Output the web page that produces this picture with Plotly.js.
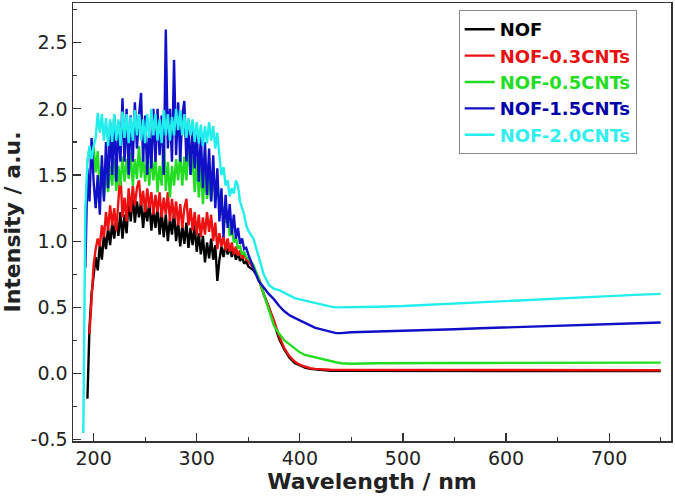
<!DOCTYPE html>
<html><head><meta charset="utf-8">
<script src="https://cdn.plot.ly/plotly-3.0.1.min.js"></script>
<style>html,body{margin:0;padding:0;background:#fff}#chart{width:675px;height:503px}</style>
</head><body><div id="chart"></div>
<script>
// Wavelength grid (nm)
const wavelength = [
190,192,194,196,198,200,202,204,206,208,
210,212,214,216,218,220,222,224,226,228,
230,232,234,236,238,240,242,244,246,248,
250,252,254,256,258,260,262,264,266,268,
270,272,274,276,278,280,282,284,286,288,
290,292,294,296,298,300,302,304,306,308,
310,312,314,316,318,320,322,324,326,328,
330,332,334,336,338,340,342,344,346,348,350,
355,360,365,370,375,380,385,390,395,400,405,410,415,420,425,430,435,440,445,450,
475,500,525,550,575,600,625,650,675,700,725,750];

const seriesNames = ['NOF','NOF-0.3CNTs','NOF-0.5CNTs','NOF-1.5CNTs','NOF-2.0CNTs'];

const nof = [
null,null,-0.19,0.35,0.6,0.72,0.88,0.78,0.98,0.86,
1.05,0.94,1.1,0.97,1.14,1.02,1.18,1.04,1.22,1.02,
1.2,1.06,1.32,1.15,1.36,1.14,1.3,1.18,1.3,1.1,
1.27,1.15,1.3,1.08,1.24,1.1,1.26,1.05,1.22,1.03,
1.2,1.0,1.17,1.05,1.22,1.0,1.14,0.96,1.12,0.98,
1.14,0.95,1.1,0.97,1.12,0.92,1.06,0.9,1.04,0.84,
0.99,0.87,1.02,0.86,0.97,0.7,0.86,0.96,0.88,0.98,
0.9,0.96,0.88,0.94,0.86,0.91,0.85,0.88,0.83,0.85,0.81,
0.78,0.72,0.6,0.5,0.38,0.26,0.18,0.12,0.08,0.06,0.045,0.035,0.03,0.025,0.02,0.02,0.02,0.02,0.02,0.02,
0.02,0.02,0.018,0.02,0.018,0.02,0.02,0.018,0.02,0.02,0.018,0.018];

const nof03 = [
null,null,null,0.3,0.52,0.82,0.94,1.02,0.96,1.12,
1.03,1.22,1.08,1.27,1.12,1.25,1.08,1.32,1.52,1.18,
1.33,1.15,1.4,1.22,1.42,1.27,1.4,1.46,1.27,1.38,
1.22,1.4,1.25,1.37,1.2,1.35,1.22,1.37,1.18,1.33,
1.2,1.37,1.15,1.32,1.17,1.3,1.12,1.28,1.1,1.25,
1.32,1.12,1.25,1.08,1.22,1.05,1.2,1.03,1.18,1.05,
1.22,1.07,1.2,1.0,1.14,0.94,1.06,0.96,1.04,0.93,
1.02,0.92,0.99,0.9,0.96,0.89,0.93,0.87,0.9,0.86,0.85,
0.8,0.72,0.6,0.5,0.4,0.28,0.19,0.13,0.09,0.065,0.05,0.04,0.035,0.03,0.03,0.028,0.028,0.028,0.028,0.028,
0.028,0.028,0.028,0.028,0.025,0.028,0.025,0.025,0.028,0.025,0.025,0.025];

const nof05 = [
null,null,1.6,1.7,1.62,1.72,1.52,1.68,1.38,1.57,
1.33,1.52,1.37,1.57,1.42,1.62,1.38,1.57,1.42,1.64,
1.45,1.62,1.47,1.67,1.42,1.62,1.47,1.72,1.48,1.64,
1.45,1.62,1.42,1.67,1.46,1.64,1.37,1.57,1.42,1.8,
1.38,1.6,1.33,1.57,1.42,1.62,1.46,1.67,1.42,1.64,
1.46,1.72,1.5,1.64,1.37,1.62,1.33,1.57,1.28,1.52,
1.32,1.47,1.3,1.5,1.35,1.46,1.28,1.2,1.26,1.14,
1.2,1.04,1.1,0.99,1.03,0.95,0.96,0.9,0.92,0.88,0.87,
0.82,0.72,0.6,0.48,0.36,0.3,0.25,0.22,0.19,0.16,0.14,0.13,0.12,0.11,0.1,0.09,0.085,0.078,0.074,0.074,
0.078,0.08,0.08,0.08,0.08,0.08,0.08,0.082,0.082,0.082,0.082,0.082];

const nof15 = [
null,0.8,1.55,1.3,1.78,1.45,1.25,1.5,1.2,1.65,
1.3,1.75,1.4,1.9,1.5,1.95,1.45,1.9,1.6,2.08,
1.6,2.0,1.5,1.95,1.6,2.05,1.7,1.95,2.12,1.6,
1.95,1.5,1.85,1.55,2.0,1.6,2.0,1.65,1.95,1.5,
2.6,1.7,2.0,1.6,2.37,1.65,2.05,1.6,1.95,2.06,
1.6,1.9,1.5,1.85,1.55,1.85,1.45,1.8,1.4,1.75,
1.35,1.7,1.3,1.65,1.25,1.55,1.15,1.4,1.03,1.35,
1.1,1.28,1.05,1.2,1.02,1.1,0.98,1.02,0.94,0.95,0.9,
0.8,0.7,0.65,0.6,0.56,0.51,0.47,0.44,0.42,0.4,0.38,0.36,0.345,0.335,0.325,0.315,0.305,0.305,0.31,0.312,
0.318,0.322,0.33,0.335,0.342,0.348,0.355,0.362,0.368,0.374,0.38,0.386];

const nof20 = [
-0.45,1.25,1.6,1.72,1.62,1.72,1.78,1.97,1.82,1.96,
1.76,1.93,1.72,1.92,1.75,1.96,1.76,1.92,1.72,1.98,
1.78,1.96,1.74,1.94,1.76,1.99,1.8,1.96,1.76,1.92,
1.74,1.96,1.78,2.0,1.8,1.96,1.76,1.92,1.74,1.99,
1.8,1.96,1.76,1.94,1.8,2.0,1.84,1.99,1.8,1.96,
1.78,1.93,1.8,1.92,1.75,1.9,1.74,1.88,1.72,1.87,
1.74,1.9,1.76,1.87,1.7,1.82,1.64,1.5,1.56,1.42,
1.46,1.34,1.4,1.36,1.46,1.42,1.3,1.25,1.2,1.12,1.08,
1.02,0.88,0.75,0.67,0.64,0.63,0.61,0.59,0.57,0.56,0.55,0.54,0.53,0.52,0.51,0.505,0.5,0.5,0.5,0.5,
0.505,0.51,0.52,0.53,0.54,0.55,0.56,0.57,0.578,0.585,0.594,0.602];

const xTickVals = [200,300,400,500,600,700];
const yTickVals = [-0.5,0,0.5,1,1.5,2,2.5];
const yTickText = ['-0.5','0.0','0.5','1.0','1.5','2.0','2.5'];

const lineColors = ['#000000','#ee1111','#22dd22','#1010c8','#22eeee'];
const textColors = ['#000000','#e81010','#22dd22','#0000a8','#33eeee'];
const values = [nof, nof03, nof05, nof15, nof20];

const traces = values.map((v, i) => ({
  x: wavelength, y: v, type: 'scatter', mode: 'lines',
  name: '<span style="color:' + textColors[i] + '">' + seriesNames[i] + '</span>',
  line: {color: lineColors[i], width: 2.4}
}));

const font = 'DejaVu Sans, Arial, sans-serif';
const layout = {
  width: 675, height: 503,
  margin: {l: 73, r: 4, t: 3, b: 62},
  paper_bgcolor: '#fff', plot_bgcolor: '#fff',
  font: {family: font, color: '#222'},
  showlegend: true,
  legend: {
    x: 0.645, xanchor: 'left', y: 0.984, yanchor: 'top',
    bordercolor: '#888', borderwidth: 1, bgcolor: '#fff',
    font: {family: font, size: 18, weight: 'bold'}
  },
  xaxis: {
    range: [180, 760], tickvals: xTickVals, ticks: 'inside', ticklen: 8, tickwidth: 1.2,
    tickcolor: '#333', showline: true, linecolor: '#333', linewidth: 1.5, mirror: true,
    showgrid: false, zeroline: false,
    tickfont: {family: font, size: 19, color: '#222'},
    minor: {dtick: 50, ticks: 'inside', ticklen: 4, tickcolor: '#333', showgrid: false},
    title: {text: 'Wavelength / nm', standoff: 2, font: {family: font, size: 22, weight: 'bold', color: '#222'}}
  },
  yaxis: {
    range: [-0.51, 2.8], tickvals: yTickVals, ticktext: yTickText, ticks: 'inside', ticklen: 8, tickwidth: 1.2,
    tickcolor: '#333', showline: true, linecolor: '#333', linewidth: 1.5, mirror: true,
    showgrid: false, zeroline: false,
    tickfont: {family: font, size: 19, color: '#222'},
    minor: {tickmode: 'linear', tick0: 0, dtick: 0.25, ticks: 'inside', ticklen: 4, tickcolor: '#333', showgrid: false},
    title: {text: 'Intensity / a.u.', standoff: 4, font: {family: font, size: 22, weight: 'bold', color: '#222'}}
  }
};

Plotly.newPlot('chart', traces, layout, {displayModeBar: false, staticPlot: true});
</script>
</body></html>
